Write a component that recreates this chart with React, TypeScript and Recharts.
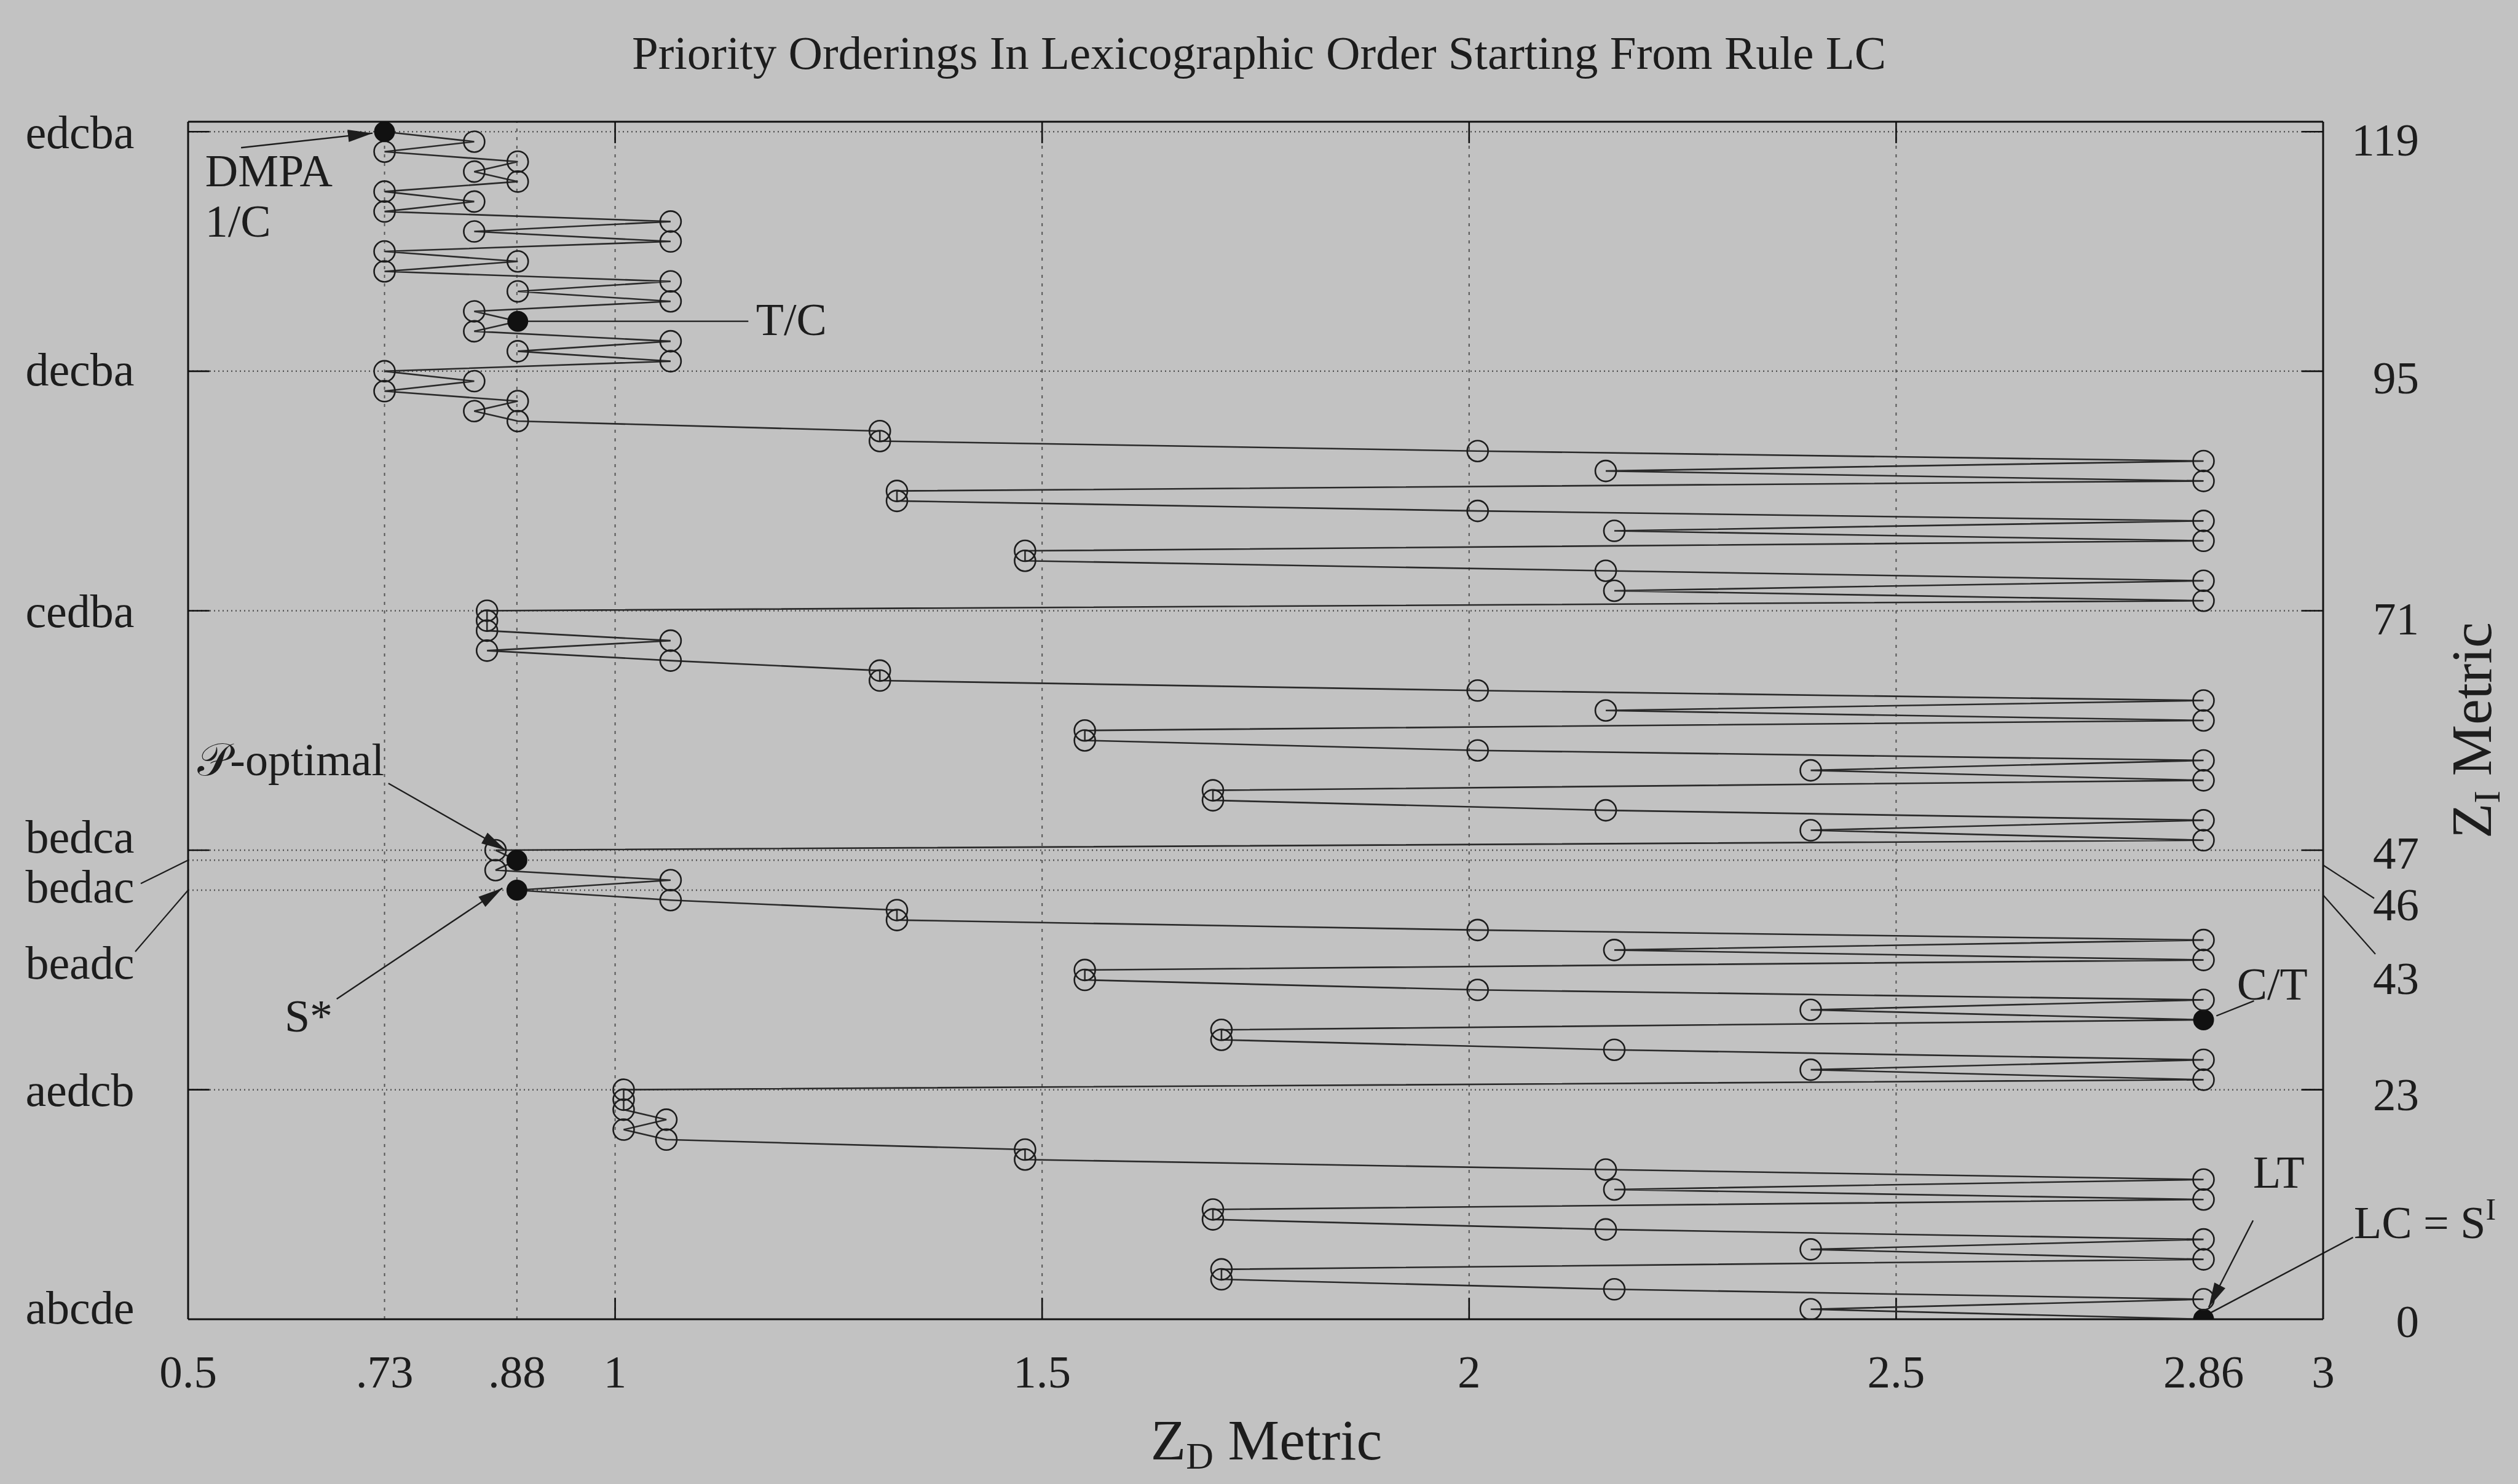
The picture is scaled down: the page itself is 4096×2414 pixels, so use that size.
import React from 'react';
import { ScatterChart, Scatter, XAxis, YAxis, ReferenceLine, ReferenceDot } from 'recharts';

const W = 4096;
const H = 2414;
const FONT = "'Liberation Serif', 'Times New Roman', serif";
const INK = '#1d1d1d';
const BG = '#c2c2c2';

// Z_D metric of every priority ordering, in lexicographic order (index = Z_I metric)
const zdA = [2.86, 2.4, 2.86, 2.17, 1.71, 1.71, 2.86, 2.4, 2.86, 2.16, 1.7, 1.7, 2.86, 2.17, 2.86, 2.16, 1.48, 1.48, 1.06, 1.01, 1.06, 1.01, 1.01, 1.01];
const zdB = [2.86, 2.4, 2.86, 2.17, 1.71, 1.71, 2.86, 2.4, 2.86, 2.01, 1.55, 1.55, 2.86, 2.17, 2.86, 2.01, 1.33, 1.33, 1.065, 0.885, 1.065, 0.86, 0.885, 0.86];
const zdC = [2.86, 2.4, 2.86, 2.16, 1.7, 1.7, 2.86, 2.4, 2.86, 2.01, 1.55, 1.55, 2.86, 2.16, 2.86, 2.01, 1.31, 1.31, 1.065, 0.85, 1.065, 0.85, 0.85, 0.85];
const zdD = [2.86, 2.17, 2.86, 2.16, 1.48, 1.48, 2.86, 2.17, 2.86, 2.01, 1.33, 1.33, 2.86, 2.16, 2.86, 2.01, 1.31, 1.31, 0.886, 0.835, 0.886, 0.73, 0.835, 0.73];
const zdE = [1.065, 0.886, 1.065, 0.835, 0.886, 0.835, 1.065, 0.886, 1.065, 0.73, 0.886, 0.73, 1.065, 0.835, 1.065, 0.73, 0.835, 0.73, 0.886, 0.835, 0.886, 0.73, 0.835, 0.73];
const zdValues = [...zdA, ...zdB, ...zdC, ...zdD, ...zdE];

// orderings marked with a filled dot (LC, C/T, S*, P-optimal, T/C, DMPA)
const highlighted = [0, 30, 43, 46, 100, 119];

const xTickValues = [0.5, 0.73, 0.885, 1, 1.5, 2, 2.5, 2.86, 3];
const xTickLabels = ['0.5', '.73', '.88', '1', '1.5', '2', '2.5', '2.86', '3'];
const yTickValues = [0, 23, 43, 46, 47, 71, 95, 119];
const yTickNames = ['abcde', 'aedcb', 'beadc', 'bedac', 'bedca', 'cedba', 'decba', 'edcba'];
const yTickNumbers = ['0', '23', '43', '46', '47', '71', '95', '119'];

const gridX = [0.73, 0.885, 1, 1.5, 2, 2.5];
const gridY = [23, 43, 46, 47, 71, 95, 119];
const majorX = [1, 1.5, 2, 2.5];
const majorY = [23, 47, 71, 95, 119];

const data = zdValues.map((zd, i) => ({ zd, zi: i, hl: highlighted.includes(i) }));

// label placement tweaks (pixels), keyed by tick value
const leftShift: Record<number, number> = { 0: -20, 47: -23, 46: 42, 43: 117, 95: -3 };
const rightShift: Record<number, number> = { 119: 13, 95: 10, 71: 12, 47: 4, 46: 71, 43: 143, 23: 7, 0: 3 };

const XTick = (p: any) => {
  const i = xTickValues.indexOf(p.payload.value);
  return (
    <text x={p.x} y={p.y + 111} textAnchor="middle" fontSize={75} fill={INK} fontFamily={FONT}>
      {xTickLabels[i]}
    </text>
  );
};

const LeftTick = (p: any) => {
  const v = p.payload.value;
  const i = yTickValues.indexOf(v);
  const { x, y } = p;
  return (
    <g>
      {v === 46 && <line x1={x - 77} y1={y + 38} x2={x} y2={y} stroke={INK} strokeWidth={2.2} />}
      {v === 43 && <line x1={x - 86} y1={y + 100} x2={x} y2={y} stroke={INK} strokeWidth={2.2} />}
      <text x={x - 176} y={y + (leftShift[v] || 0)} dy="0.35em" textAnchor="middle" fontSize={76} fill={INK} fontFamily={FONT}>
        {yTickNames[i]}
      </text>
    </g>
  );
};

const RightTick = (p: any) => {
  const v = p.payload.value;
  const i = yTickValues.indexOf(v);
  const { x, y } = p;
  return (
    <g>
      {v === 46 && <line x1={x} y1={y + 8} x2={x + 83} y2={y + 62} stroke={INK} strokeWidth={2.2} />}
      {v === 43 && <line x1={x} y1={y + 8} x2={x + 85} y2={y + 104} stroke={INK} strokeWidth={2.2} />}
      <text x={x + 156} y={y + (rightShift[v] || 0)} dy="0.35em" textAnchor="end" fontSize={75} fill={INK} fontFamily={FONT}>
        {yTickNumbers[i]}
      </text>
    </g>
  );
};

const Ring = (p: any) => {
  if (p.cx == null) return null;
  return p.payload.hl ? (
    <circle cx={p.cx} cy={p.cy} r={16} fill="#111" stroke="#111" strokeWidth={2} />
  ) : (
    <circle cx={p.cx} cy={p.cy} r={17} fill="none" stroke={INK} strokeWidth={2.6} />
  );
};

const leader = (head: boolean) => (p: any) => {
  const { x1, y1, x2, y2 } = p;
  const a = Math.atan2(y2 - y1, x2 - x1);
  const bx = x2 - 40 * Math.cos(a);
  const by = y2 - 40 * Math.sin(a);
  const s = Math.sin(a) * 10;
  const c = Math.cos(a) * 10;
  return (
    <g>
      <line x1={x1} y1={y1} x2={x2} y2={y2} stroke={INK} strokeWidth={2.4} />
      {head && <polygon points={`${x2},${y2} ${bx + s},${by - c} ${bx - s},${by + c}`} fill={INK} />}
    </g>
  );
};

const note = (content: React.ReactNode) => (p: any) => (
  <text x={p.cx} y={p.cy} dy="0.35em" fontSize={74} fill={INK} fontFamily={FONT}>
    {content}
  </text>
);

const notes = [
  { x: 0.52, y: 115.1, text: 'DMPA' },
  { x: 0.52, y: 110.1, text: '1/C' },
  { x: 1.165, y: 100.2, text: 'T/C' },
  { x: 0.511, y: 56.1, text: '𝒫-optimal' },
  { x: 0.613, y: 30.4, text: 'S*' },
  { x: 2.899, y: 33.6, text: 'C/T' },
  { x: 2.918, y: 14.8, text: 'LT' },
  { x: 3.036, y: 9.7, text: <>LC = S<tspan dy={-30} fontSize={50}>I</tspan></> },
];

const arrows = [
  { from: [0.562, 117.4], to: [0.716, 118.85], head: true },
  { from: [0.886, 100], to: [1.156, 100], head: false },
  { from: [0.7345, 53.7], to: [0.872, 47.0], head: true },
  { from: [0.674, 32.1], to: [0.868, 43.2], head: true },
  { from: [2.919, 31.9], to: [2.875, 30.4], head: false },
  { from: [2.918, 9.9], to: [2.866, 1.2], head: true },
  { from: [3.035, 8.2], to: [2.866, 0.55], head: false },
];

const App: React.FC = () => {
  return (
    <div style={{ position: 'absolute', left: 0, top: 0, width: W, height: H, background: BG }}>
      <ScatterChart width={W} height={H} margin={{ top: 198, right: 0, bottom: 0, left: 0 }}>
        <XAxis
          type="number"
          dataKey="zd"
          domain={[0.5, 3]}
          allowDataOverflow
          ticks={xTickValues}
          interval={0}
          height={268}
          tickSize={0}
          tickMargin={0}
          tickLine={false}
          axisLine={{ stroke: '#111', strokeWidth: 3 }}
          tick={<XTick />}
        />
        <YAxis
          type="number"
          dataKey="zi"
          domain={[0, 120]}
          allowDataOverflow
          ticks={yTickValues}
          interval={0}
          width={306}
          tickSize={0}
          tickMargin={0}
          tickLine={false}
          axisLine={{ stroke: '#111', strokeWidth: 3 }}
          tick={<LeftTick />}
        />
        <YAxis
          yAxisId="right"
          orientation="right"
          type="number"
          domain={[0, 120]}
          allowDataOverflow
          ticks={yTickValues}
          interval={0}
          width={317}
          tickSize={0}
          tickMargin={0}
          tickLine={false}
          axisLine={{ stroke: '#111', strokeWidth: 3 }}
          tick={<RightTick />}
        />

        {gridX.map((v) => (
          <ReferenceLine key={'gx' + v} x={v} stroke="#555" strokeWidth={2} strokeDasharray="5 9" />
        ))}
        {gridY.map((v) => (
          <ReferenceLine key={'gy' + v} y={v} stroke="#555" strokeWidth={2.5} strokeDasharray="2 5" />
        ))}
        <ReferenceLine y={120} stroke="#111" strokeWidth={3} />
        {majorX.map((v) => (
          <ReferenceLine key={'tb' + v} segment={[{ x: v, y: 0 }, { x: v, y: 2.15 }]} stroke="#111" strokeWidth={2.6} />
        ))}
        {majorX.map((v) => (
          <ReferenceLine key={'tt' + v} segment={[{ x: v, y: 120 }, { x: v, y: 117.85 }]} stroke="#111" strokeWidth={2.6} />
        ))}
        {majorY.map((v) => (
          <ReferenceLine key={'tl' + v} segment={[{ x: 0.5, y: v }, { x: 0.525, y: v }]} stroke="#111" strokeWidth={2.6} />
        ))}
        {majorY.map((v) => (
          <ReferenceLine key={'tr' + v} segment={[{ x: 3, y: v }, { x: 2.975, y: v }]} stroke="#111" strokeWidth={2.6} />
        ))}

        <Scatter
          data={data}
          line={{ stroke: '#2a2a2a', strokeWidth: 2.6 }}
          lineType="joint"
          shape={<Ring />}
          isAnimationActive={false}
        />

        {arrows.map((a, i) => (
          <ReferenceLine
            key={'ar' + i}
            segment={[{ x: a.from[0], y: a.from[1] }, { x: a.to[0], y: a.to[1] }]}
            ifOverflow="visible"
            shape={leader(a.head)}
          />
        ))}
        {notes.map((n, i) => (
          <ReferenceDot key={'nt' + i} x={n.x} y={n.y} ifOverflow="visible" shape={note(n.text)} />
        ))}
      </ScatterChart>

      <svg width={W} height={H} style={{ position: 'absolute', left: 0, top: 0, pointerEvents: 'none' }}>
        <text x={2048} y={112} textAnchor="middle" fontSize={77} fill={INK} fontFamily={FONT}>
          Priority Orderings In Lexicographic Order Starting From Rule LC
        </text>
        <text x={2060} y={2374} textAnchor="middle" fontSize={94} fill={INK} fontFamily={FONT}>
          Z<tspan dy={15} fontSize={62}>D</tspan>
          <tspan dy={-15}> Metric</tspan>
        </text>
        <text
          x={4052}
          y={1188}
          transform="rotate(-90 4052 1188)"
          textAnchor="middle"
          fontSize={94}
          fill={INK}
          fontFamily={FONT}
        >
          Z<tspan dy={14} fontSize={62}>I</tspan>
          <tspan dy={-14}> Metric</tspan>
        </text>
      </svg>
    </div>
  );
};

export default App;
